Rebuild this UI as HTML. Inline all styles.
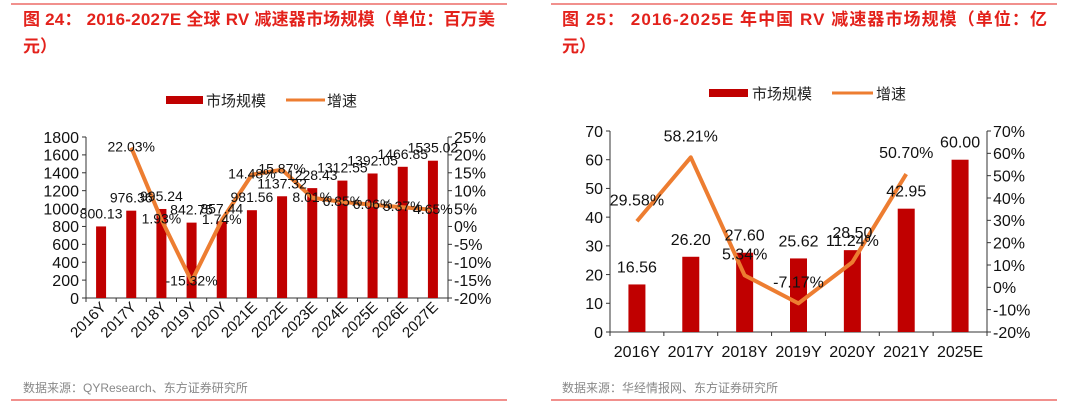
<!DOCTYPE html>
<html><head><meta charset="utf-8"><style>
body{margin:0;width:1065px;height:409px;background:#fff;overflow:hidden;font-family:"Liberation Sans","Noto Sans CJK SC",sans-serif}
svg{position:absolute;left:0;top:0}
</style></head><body>
<svg id="s" width="1065" height="409" xmlns="http://www.w3.org/2000/svg" font-family="Liberation Sans, Noto Sans CJK SC, sans-serif">
<g>
<line x1="11" y1="4" x2="507" y2="4" stroke="#e3211b" stroke-width="1"/>
<text x="23" y="25" font-size="17" font-weight="bold" fill="#e3211b" textLength="472" lengthAdjust="spacing">图 24： 2016-2027E 全球 RV 减速器市场规模（单位：百万美</text>
<text x="23" y="52" font-size="17" font-weight="bold" fill="#e3211b">元）</text>
<rect x="166" y="96" width="37" height="8" fill="#c00000"/>
<text x="206" y="106" font-size="15" fill="#222">市场规模</text>
<line x1="286" y1="100" x2="325" y2="100" stroke="#ed7d31" stroke-width="3"/>
<text x="327" y="106" font-size="15" fill="#222">增速</text>
<text x="23" y="392" font-size="12" fill="#888">数据来源：QYResearch、东方证券研究所</text>
<line x1="11" y1="400" x2="507" y2="400" stroke="#e3211b" stroke-width="1"/>
<g id="lc"></g>
</g>
<g>
<line x1="551" y1="4" x2="1057" y2="4" stroke="#e3211b" stroke-width="1"/>
<text x="562" y="25" font-size="17" font-weight="bold" fill="#e3211b" textLength="485" lengthAdjust="spacing">图 25： 2016-2025E 年中国 RV 减速器市场规模（单位：亿</text>
<text x="562" y="52" font-size="17" font-weight="bold" fill="#e3211b">元）</text>
<rect x="709" y="89" width="39" height="8" fill="#c00000"/>
<text x="752" y="99" font-size="15" fill="#222">市场规模</text>
<line x1="832" y1="93" x2="873" y2="93" stroke="#ed7d31" stroke-width="3"/>
<text x="876" y="99" font-size="15" fill="#222">增速</text>
<text x="562" y="392" font-size="12" fill="#888">数据来源：华经情报网、东方证券研究所</text>
<line x1="551" y1="400" x2="1057" y2="400" stroke="#e3211b" stroke-width="1"/>
<g id="rc"></g>
</g>
</svg>
<script>
const leftCats=["2016Y","2017Y","2018Y","2019Y","2020Y","2021E","2022E","2023E","2024E","2025E","2026E","2027E"];
const leftBars=[800.13,976.36,995.24,842.75,857.44,981.56,1137.32,1228.43,1312.55,1392.05,1466.85,1535.02];
const leftGrowth=[null,22.03,1.93,-15.32,1.74,14.48,15.87,8.01,6.85,6.06,5.37,4.65];
const leftYTicks=[0,200,400,600,800,1000,1200,1400,1600,1800];
const leftY2Ticks=[-20,-15,-10,-5,0,5,10,15,20,25];
const rightCats=["2016Y","2017Y","2018Y","2019Y","2020Y","2021Y","2025E"];
const rightBars=[16.56,26.20,27.60,25.62,28.50,42.95,60.00];
const rightGrowth=[29.58,58.21,5.34,-7.17,11.24,50.70,null];
const rightYTicks=[0,10,20,30,40,50,60,70];
const rightY2Ticks=[-20,-10,0,10,20,30,40,50,60,70];

const NS="http://www.w3.org/2000/svg";
function mk(p,t,a,txt){const e=document.createElementNS(NS,t);for(const k in a)e.setAttribute(k,a[k]);if(txt!=null)e.textContent=txt;p.appendChild(e);return e;}

function chart(g,o){
  const {cats,bars,growth,yt,y2t,x0,x1,yTop,yBot,bw,rot,fs,xfs,lfs,pre}=o;
  const ymin=yt[0],ymax=yt[yt.length-1],y2min=y2t[0],y2max=y2t[y2t.length-1];
  const band=(x1-x0)/cats.length;
  const X=i=>x0+band*(i+0.5);
  const Y=v=>yBot-(v-ymin)/(ymax-ymin)*(yBot-yTop);
  const Y2=v=>yBot-(v-y2min)/(y2max-y2min)*(yBot-yTop);
  mk(g,"line",{x1:x0,y1:yTop,x2:x0,y2:yBot,stroke:"#333"});
  mk(g,"line",{x1:x1,y1:yTop,x2:x1,y2:yBot,stroke:"#333"});
  mk(g,"line",{x1:x0,y1:yBot,x2:x1,y2:yBot,stroke:"#333"});
  yt.forEach(v=>{mk(g,"line",{x1:x0-4,y1:Y(v),x2:x0,y2:Y(v),stroke:"#333"});
    const t=mk(g,"text",{x:x0-7,y:Y(v)+fs*0.36,"font-size":fs,"text-anchor":"end",fill:"#111"},String(v));
    
    });
  y2t.forEach(v=>{mk(g,"line",{x1:x1,y1:Y2(v),x2:x1+4,y2:Y2(v),stroke:"#333"});
    const t=mk(g,"text",{x:x1+6,y:Y2(v)+fs*0.36,"font-size":fs,fill:"#111"},v+"%");
    
    });
  for(let i=0;i<=cats.length;i++)mk(g,"line",{x1:x0+band*i,y1:yBot,x2:x0+band*i,y2:yBot+4,stroke:"#333"});
  cats.forEach((c,i)=>{
    let t;
    if(rot){t=mk(g,"text",{x:X(i)+6,y:yBot+10,"font-size":xfs,"text-anchor":"end",fill:"#111",transform:`rotate(-45 ${X(i)+6} ${yBot+10})`},c);}
    else{t=mk(g,"text",{x:X(i),y:yBot+25,"font-size":xfs,"text-anchor":"middle",fill:"#111"},c);}
    
    
  });
  bars.forEach((v,i)=>{
    const r=mk(g,"rect",{x:X(i)-bw/2,y:Y(v),width:bw,height:yBot-Y(v),fill:"#c00000"});
    
    
  });
  let d="";growth.forEach((v,i)=>{if(v==null)return;d+=(d?"L":"M")+X(i)+","+Y2(v);});
  const p=mk(g,"path",{d:d,fill:"none",stroke:"#ed7d31","stroke-width":4,"stroke-linejoin":"round"});
  
  
  bars.forEach((v,i)=>{
    const t=mk(g,"text",{x:X(i),y:Y(v)-pre.bo,"font-size":lfs,"text-anchor":"middle",fill:"#111"},v.toFixed(2));
    
    
  });
  growth.forEach((v,i)=>{if(v==null)return;
    const t=mk(g,"text",{x:X(i),y:Y2(v)-pre.go,"font-size":lfs,"text-anchor":"middle",fill:"#111"},v.toFixed(2)+"%");
    
    
  });
}
chart(document.getElementById("lc"),{cats:leftCats,bars:leftBars,growth:leftGrowth,yt:leftYTicks,y2t:leftY2Ticks,x0:86,x1:448,yTop:137,yBot:298,bw:10,rot:true,fs:16,xfs:15,lfs:14,pre:{bo:8,go:-4}});
chart(document.getElementById("rc"),{cats:rightCats,bars:rightBars,growth:rightGrowth,yt:rightYTicks,y2t:rightY2Ticks,x0:610,x1:987,yTop:131,yBot:332,bw:17,rot:false,fs:16,xfs:16,lfs:16,pre:{bo:12,go:16}});
</script>
</body></html>
